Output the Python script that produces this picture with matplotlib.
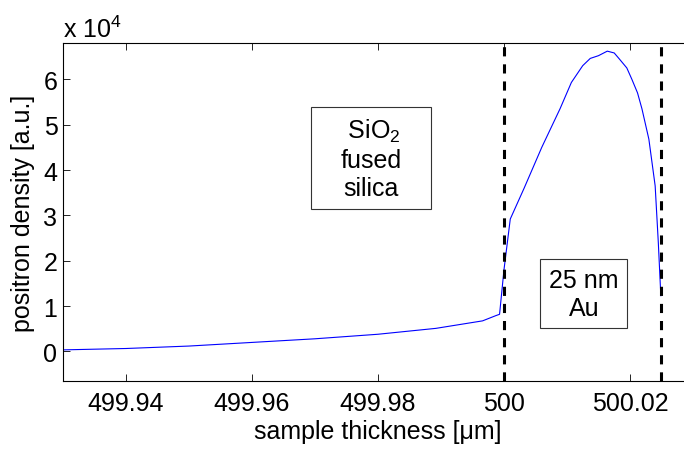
import matplotlib.pyplot as plt
import numpy as np

plt.rcParams['font.family'] = ['Liberation Sans', 'DejaVu Sans']
plt.rcParams['mathtext.fontset'] = 'custom'
plt.rcParams['mathtext.rm'] = 'Liberation Sans'
plt.rcParams['mathtext.it'] = 'Liberation Sans'

# positron density profile (x in um, y in 1e4 a.u.)
thickness = [499.9298, 499.94, 499.95, 499.96, 499.97, 499.98, 499.9892, 499.9966,
             499.9987, 499.9993, 500.0, 500.001, 500.0032, 500.0060, 500.0089,
             500.0107, 500.0125, 500.0137, 500.0150, 500.0164, 500.0175,
             500.0183, 500.0195, 500.0203, 500.0212, 500.0219, 500.0230,
             500.0240, 500.0245, 500.0249]
density = [0.035, 0.066, 0.12, 0.20, 0.28, 0.38, 0.51, 0.675,
           0.79, 0.82, 1.8, 2.92, 3.6, 4.5, 5.35,
           5.93, 6.3, 6.46, 6.52, 6.62, 6.58,
           6.45, 6.25, 6.0, 5.7, 5.35, 4.68,
           3.65, 2.4, 1.23]

interfaces = [500.0, 500.025]
xticks = [499.94, 499.96, 499.98, 500.0, 500.02]
xticklabels = ['499.94', '499.96', '499.98', '500', '500.02']
yticks = [0, 1, 2, 3, 4, 5, 6]

fs = 18

fig = plt.figure(figsize=(6.84, 4.52), dpi=100)
ax = fig.add_axes([0.0921, 0.1549, 0.921, 0.7478])

ax.plot(thickness, density, color='#0000ff', lw=0.8)
for xv in interfaces:
    ax.axvline(xv, color='black', lw=2.2, linestyle=(0, (3, 2.6)))

ax.set_xlim(499.93, 500.03)
ax.set_ylim(-0.65, 6.8)
ax.set_xticks(xticks)
ax.set_xticklabels(xticklabels)
ax.set_yticks(yticks)
ax.tick_params(direction='in', length=5, width=0.6, labelsize=fs,
               top=True, right=True)
ax.tick_params(axis='x', pad=7)
ax.tick_params(axis='y', pad=4)
for s in ax.spines.values():
    s.set_linewidth(0.8)

ax.set_xlabel('sample thickness [\u03bcm]', fontsize=fs, labelpad=3)
ax.set_ylabel('positron density [a.u.]', fontsize=fs, labelpad=6)

fig.text(0.092, 0.916, r'x 10$^{4}$', fontsize=fs, ha='left', va='baseline')

pad = '\u00a0' * 4
bbox = dict(boxstyle='square,pad=0.35', fc='white', ec='#333333', lw=0.8)
ax.text(499.9789, 4.25, pad + 'SiO$_2$' + pad + '\nfused\nsilica', fontsize=fs,
        ha='center', va='center', bbox=bbox, linespacing=1.2,
        multialignment='center')
ax.text(500.0127, 1.275, '25 nm\nAu', fontsize=fs, ha='center',
        va='center', bbox=bbox, linespacing=1.2, multialignment='center')

fig.savefig('out.png', dpi=100)
